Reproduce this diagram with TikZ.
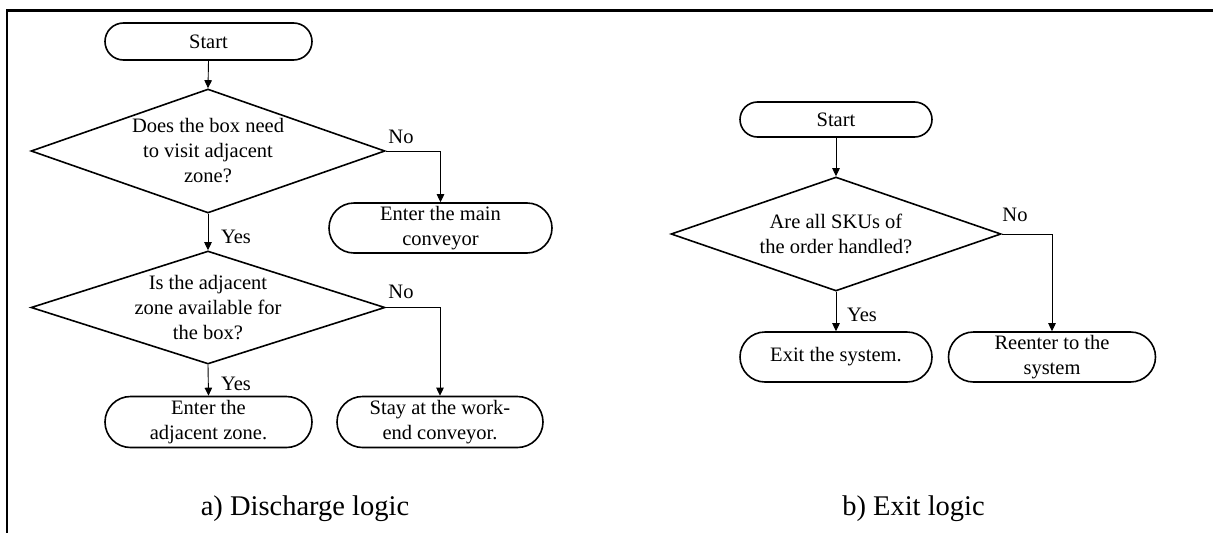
\documentclass[tikz,border=0pt]{standalone}
\usepackage{fontspec}
\setmainfont{Liberation Serif}
\usetikzlibrary{shapes.geometric,shapes.misc,arrows.meta}

\begin{document}
\begin{tikzpicture}[x=1pt,y=-1pt,
  font=\fontsize{20.5}{25}\selectfont,
  term/.style={draw, line width=1.6pt, rounded rectangle, inner sep=0pt, align=center},
  decide/.style={draw, line width=1.6pt, diamond, shape aspect=3, inner sep=-10pt, align=center},
  flow/.style={line width=0.9pt, -{Triangle[length=8pt,width=7.5pt]}},
  subcap/.style={font=\fontsize{28.5}{30}\selectfont, anchor=base}]
\useasboundingbox (0,0) rectangle (1213,533);
\draw[line width=2.2pt] (1213,10.5) -- (7,10.5) -- (7,533);

% a) discharge logic
\node[term, minimum width=207pt, minimum height=37pt] (startA) at (208.5,41.5) {Start};
\node[decide, minimum width=354pt, minimum height=124pt] (visit) at (208,151) {Does the box need\\to visit adjacent\\zone?};
\node[term, minimum width=223pt, minimum height=50pt] (mainconv) at (440.5,228) {Enter the main\\conveyor};
\node[decide, minimum width=354pt, minimum height=113pt] (avail) at (208,307.5) {Is the adjacent\\zone available for\\the box?};
\node[term, minimum width=207pt, minimum height=51pt] (adjzone) at (208.5,422) {Enter the\\adjacent zone.};
\node[term, minimum width=206pt, minimum height=51pt] (stay) at (440,422) {Stay at the work-\\end conveyor.};

\node (noA) at (401,137) {No};
\node (yesA) at (236,237) {Yes};
\node (noB) at (401,292) {No};
\node (yesB) at (236,384) {Yes};

\draw[flow] (startA.south) -- (visit.north);
\draw[flow] (visit.east) -| (mainconv.north);
\draw[flow] (visit.south) -- (avail.north);
\draw[flow] (avail.east) -| (stay.north);
\draw[flow] (avail.south) -- (adjzone.north);

% b) exit logic
\node[term, minimum width=192pt, minimum height=35pt] (startB) at (836,119.5) {Start};
\node[decide, minimum width=330pt, minimum height=114pt] (handled) at (836,234) {Are all SKUs of\\the order handled?};
\node[term, minimum width=192pt, minimum height=50pt] (exitsys) at (836,357) {Exit the system.};
\node[term, minimum width=207pt, minimum height=50pt] (reenter) at (1052,357) {Reenter to the\\system};

\node (noC) at (1015,215) {No};
\node (yesC) at (862,315) {Yes};

\draw[flow] (startB.south) -- (handled.north);
\draw[flow] (handled.east) -| (reenter.north);
\draw[flow] (handled.south) -- (exitsys.north);

\node[subcap] (capA) at (305,515) {a) Discharge logic};
\node[subcap] (capB) at (913.5,515) {b) Exit logic};
\end{tikzpicture}
\end{document}
